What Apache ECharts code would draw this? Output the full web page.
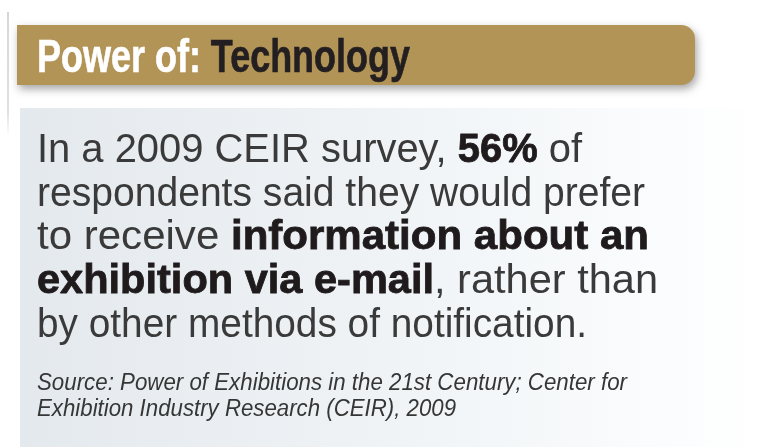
<!DOCTYPE html>
<html>
<head>
<meta charset="utf-8">
<script src="https://cdn.jsdelivr.net/npm/echarts@6/dist/echarts.min.js"></script>
<style>
html,body{margin:0;padding:0;background:#fff;}
#c{width:761px;height:447px;}
</style>
</head>
<body>
<div id="c"></div>
<script>
// ---- data ----
const headline = ['Power of:', 'Technology'];
const statYear = [2009];
const statShare = [56];          // percent
const statSource = ['CEIR'];
const bodyLines = [
  [['r', 'In a ' + statYear[0] + ' ' + statSource[0] + ' survey, '], ['b', statShare[0] + '%'], ['r', ' of']],
  [['r', 'respondents said they would prefer']],
  [['r', 'to receive '], ['b', 'information about an']],
  [['b', 'exhibition via e-mail'], ['r', ', rather than']],
  [['r', 'by other methods of notification.']]
];
const sourceLines = [
  'Source: Power of Exhibitions in the 21st Century; Center for',
  'Exhibition Industry Research (CEIR), ' + statYear[0]
];

// ---- layout helpers ----
const ctx = document.createElement('canvas').getContext('2d');
function fontStr(f){ return (f.style||'normal')+' '+(f.weight||'normal')+' '+f.size+'px '+f.family; }
function measure(text, f){ ctx.font = fontStr(f); ctx.textBaseline='alphabetic'; return ctx.measureText(text).width; }
function midOffset(f){ ctx.font = fontStr(f); ctx.textBaseline='middle'; const m = ctx.measureText('H'); ctx.textBaseline='alphabetic'; return m.actualBoundingBoxDescent; }

const fonts = {
  titleW: {family:'"Liberation Sans"', weight:'bold', size:46, fill:'#ffffff', stroke:'#ffffff', lw:0.6},
  titleD: {family:'"Liberation Sans"', weight:'bold', size:46, fill:'#231f20', stroke:'#231f20', lw:0.6},
  r: {family:'"Liberation Sans"', weight:'normal', size:40, fill:'#3a3a3a'},
  b: {family:'"Liberation Sans"', weight:'bold', size:40, fill:'#1f1a1b', stroke:'#1f1a1b', lw:0.8},
  src: {family:'"Liberation Sans"', style:'italic', weight:'normal', size:23, fill:'#363636'}
};

const elements = [];
// left rule
elements.push({type:'line', shape:{x1:8, y1:12, x2:8, y2:135}, z:1,
  style:{lineWidth:1.5, stroke:{type:'linear', x:0,y:0,x2:0,y2:1, colorStops:[{offset:0,color:'#c9c9c9'},{offset:0.8,color:'#d6d6d6'},{offset:1,color:'rgba(220,220,220,0)'}]}}});
// panel
elements.push({type:'rect', shape:{x:20, y:108, width:741, height:339}, z:1,
  style:{fill:{type:'linear', x:0,y:0,x2:1,y2:0, colorStops:[{offset:0,color:'#e4e9ed'},{offset:0.45,color:'#eef2f5'},{offset:0.85,color:'#fafcfd'},{offset:1,color:'#ffffff'}]}}});
// banner
elements.push({type:'rect', shape:{x:17, y:25, width:678, height:60, r:[0,14,14,0]}, z:3,
  style:{fill:'#b29457', shadowBlur:8, shadowColor:'rgba(0,0,0,0.35)', shadowOffsetX:2, shadowOffsetY:4}});

function placeLine(segs, x0, xEnd, baseline, z){
  const widths = segs.map(s => measure(s[1], fonts[s[0]]));
  const total = widths.reduce((a,b)=>a+b,0);
  const sc = (xEnd - x0) / total;
  let x = x0;
  segs.forEach((s, i) => {
    const f = fonts[s[0]];
    elements.push({type:'text', x:x, y: baseline - midOffset(f), scaleX: sc, z:z,
      style:{text:s[1], fontFamily:f.family, fontWeight:f.weight, fontStyle:f.style||'normal', fontSize:f.size,
             fill:f.fill, stroke:f.stroke||null, lineWidth:f.lw||0, align:'left', verticalAlign:'middle'}});
    x += widths[i] * sc;
  });
}

// title
placeLine([['titleW', headline[0] + ' '], ['titleD', headline[1]]], 37, 410, 72, 5);
// body
const bodyBase = [162, 206, 249, 293, 337];
const bodyEnd = [582, 645, 649, 658, 587];
bodyLines.forEach((segs, i) => placeLine(segs, 37, bodyEnd[i], bodyBase[i], 5));
// source
const srcBase = [390, 416];
const srcEnd = [627, 456];
sourceLines.forEach((t, i) => placeLine([['src', t]], 37, srcEnd[i], srcBase[i], 5));

const chart = echarts.init(document.getElementById('c'), null, {renderer:'canvas'});
chart.setOption({
  backgroundColor:'#ffffff',
  animation:false,
  graphic:{elements: elements}
});
</script>
</body>
</html>
